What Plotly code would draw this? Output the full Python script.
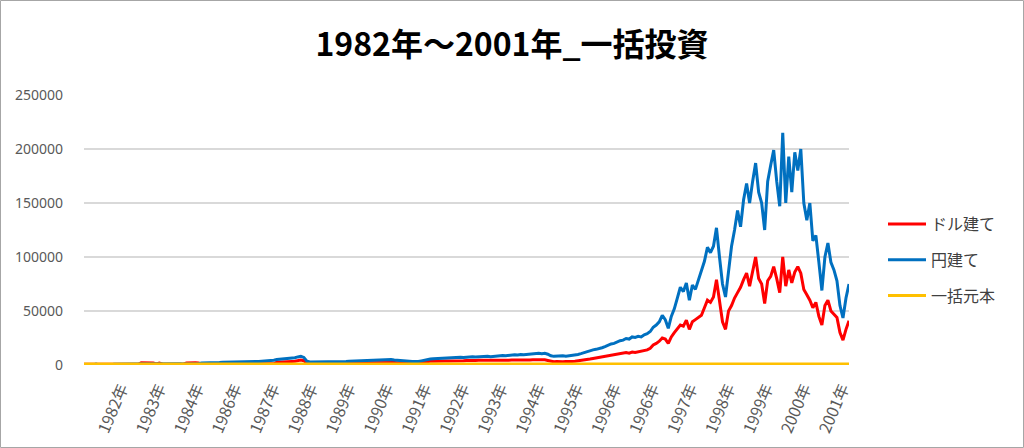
import plotly.graph_objects as go

# ---- data ----
year_labels = ["1982年", "1983年", "1984年", "1986年", "1987年", "1988年", "1989年",
               "1990年", "1991年", "1992年", "1993年", "1994年", "1995年", "1996年",
               "1996年", "1997年", "1998年", "1999年", "2000年", "2001年"]

# 円建て (yen based value)
yen_value = [
    300, 0, 0, 0, 900, 0, 0, 0, 0, 200,
    800, 900, 900, 900, 950, 900, 950, 900, 900, 950,
    950, 900, 950, 1000, 950, 1000, 950, 1000, 1000, 950,
    1000, 1000, 1050, 1000, 1000, 1050, 1000, 1100, 1200,
    1800, 1800, 2000, 2000, 2200, 2300, 2300, 2500, 2600, 2500, 2800, 3000,
    3200, 3000, 3300, 3500, 3400, 3500, 3300, 3200, 3400, 3500,
    3600, 3800, 4500, 5000,
    5300, 5600, 6000, 5800, 6200, 6800, 7500, 8000, 7000, 3500, 2800,
    2800, 2900, 2900, 3000, 2900, 3000, 3000, 3100, 3000, 3100, 3200, 3300, 3500,
    3600, 3800, 4000, 4200, 4500, 4800, 4600, 5000, 4800, 5200,
    5000, 4800, 5200, 5000, 4600, 4500, 4300, 4000, 3800, 3500, 3200, 3000,
    3200, 3800, 4500, 5200, 5500, 5800, 6000, 5800, 6200, 6500, 6300, 6800, 7000, 6800, 7200,
    7000, 7400, 7200, 7600, 7500, 7800, 7400, 7800, 8000, 7600,
    8000, 8300, 8500, 8800, 8600, 9000, 9200, 9500, 9300, 9800,
    9500, 9800, 10000, 10200, 10500, 10800, 10500,
    10800, 10000, 8500, 8000, 8300, 8000, 8600, 8200,
    8500, 8800, 9200, 9800, 10500, 11500, 12500, 13500, 14000, 14500, 15000,
    16000, 17000, 18500, 19500, 20000, 21500, 22500, 23000, 24500, 24000,
    26000, 25500, 26500, 26000, 28000, 29000, 31000, 35000, 37000, 40000,
    46000, 42000, 34000, 45000, 52000, 62000, 72000, 68000, 76000, 60000,
    74000, 70000, 78000, 88000, 96000, 109000, 104000, 110000, 127000, 100000,
    75000, 63000, 85000, 110000, 125000, 143000, 128000, 153000, 168000, 150000,
    170000, 187000, 160000, 150000, 125000, 170000, 185000, 199000, 170000, 147000,
    215000, 150000, 193000, 160000, 197000, 180000, 200000, 150000, 134000, 150000,
    115000, 120000, 95000, 69000, 100000, 113000, 95000, 88000, 78000, 55000,
    43500, 62000, 75000,
]

# ドル建て (dollar based value)
dollar_value = [
    700, 700, 700, 700, 700, 700, 700, 700, 700, 700,
    700, 700, 700, 700, 700, 700, 700, 700, 700,
    2000, 2100, 1900, 2000, 1800,
    900, 1800, 900, 800, 800, 800, 800, 800, 800, 800,
    1800, 2000, 1900, 2000, 1800,
    1000, 1000, 1000, 1000, 1000, 1000, 1000, 1000, 1000, 1000,
    1000, 1000, 1000, 1000, 1000, 1000, 1000, 1000, 1000, 1000,
    1000, 1000, 1000, 1000, 1100,
    2500, 2800, 3000, 3000, 3200, 3300, 3500, 4000, 4500, 4000,
    1500,
    1200, 1200, 1200, 1200, 1200, 1200, 1200, 1200, 1200, 1200,
    1200, 1200, 1200, 1200, 1300, 1300, 1400, 1500, 1600, 1800,
    2000, 2100, 2200, 2300, 2300, 2200, 2400, 2300, 2200, 2100, 2000, 1900, 1800, 1800, 1700, 1700,
    2000, 2500, 3000, 3300, 3500, 3500, 3400, 3600, 3500, 3700,
    3800, 3700, 4000, 3900, 4100, 4000, 4200, 4000, 4300, 4200,
    4400, 4200, 4500, 4400, 4300, 4500, 4400, 4600, 4500, 4700,
    4500, 4700, 4600, 4800, 4700, 4500, 4800, 4600, 4900, 5000, 5200, 5000,
    4800, 4200, 3500, 3000, 3200, 2800, 3000, 3200, 3000, 3300,
    3500, 3800, 4000, 4500, 5000, 5500, 6000, 6500, 7000,
    7500, 8000, 8500, 9000, 9500, 10000, 10500, 11000, 11500, 11000,
    12000, 11500, 12000, 12500, 13000, 14000, 15500, 18500, 20000, 22000,
    25000, 24000, 20000, 26000, 30000, 34000, 37000, 36000, 41500, 33000,
    40000, 42000, 44000, 46000, 53000, 60000, 58000, 63000, 79000, 58000,
    40000, 33000, 50000, 55000, 62000, 67000, 72000, 79000, 85000, 73000,
    88000, 100000, 80000, 75000, 57000, 78000, 82000, 91000, 80000, 67000,
    100000, 73000, 88000, 76000, 86000, 91000, 85000, 70000, 65000, 60000,
    53000, 58000, 45000, 37000, 55000, 60000, 50000, 47000, 44000, 30000,
    23000, 33000, 41000,
]

lump_sum = 1000  # 一括元本

n = min(len(yen_value), len(dollar_value))
days = list(range(n))
principal = [lump_sum for _ in days]

# ---- layout constants ----
L, R, T, B = 84, 175, 95, 83
W, H = 1024, 448
first_tick = 12.3
tick_step = 12.6
tickvals = [first_tick + k * tick_step for k in range(len(year_labels))]

fig = go.Figure()
fig.add_trace(go.Scatter(x=days, y=dollar_value[:n], mode="lines", name="ドル建て",
                         line=dict(color="#FF0000", width=3), legendgroup="a"))
fig.add_trace(go.Scatter(x=days, y=yen_value[:n], mode="lines", name="円建て",
                         line=dict(color="#0070C0", width=3), legendgroup="b"))
fig.add_trace(go.Scatter(x=days, y=principal, mode="lines", name="一括元本",
                         line=dict(color="#FFC000", width=3), legendgroup="c"))

pw = W - L - R
ph = H - T - B
fig.add_shape(type="rect", xref="paper", yref="paper",
              x0=(0.5 - L) / pw, x1=(W - 0.5 - L) / pw,
              y0=-(B - 0.5) / ph, y1=1 + (T - 0.5) / ph,
              line=dict(color="#a6a6a6", width=1), fillcolor="rgba(0,0,0,0)", layer="below")

fig.update_layout(
    width=W, height=H,
    margin=dict(l=L, r=R, t=T, b=B),
    paper_bgcolor="white", plot_bgcolor="white",
    font=dict(family="Noto Sans CJK JP", color="#595959"),
    title=dict(text="1982年～2001年_一括投資", x=0.5, xref="container", xanchor="center",
               y=1 - 45 / H, yref="container", yanchor="middle",
               font=dict(family="Noto Sans CJK JP", size=32, color="#000000", weight=700)),
    showlegend=True,
    legend=dict(x=(883 - L) / pw, y=(365 - 260) / ph, xanchor="left", yanchor="middle",
                font=dict(family="Noto Sans CJK JP", size=16, color="#404040"),
                traceorder="grouped", tracegroupgap=12, bgcolor="rgba(0,0,0,0)",
                itemwidth=38),
    xaxis=dict(range=[0, n - 1], tickmode="array", tickvals=tickvals, ticktext=year_labels,
               tickangle=-67, showgrid=False, zeroline=False, showline=False, ticks="",
               ticklabelstandoff=10,
               tickfont=dict(family="Noto Sans CJK JP", size=16, color="#595959")),
    yaxis=dict(range=[0, 250000], tickmode="array",
               tickvals=[0, 50000, 100000, 150000, 200000, 250000],
               ticktext=["0", "50000", "100000", "150000", "200000", "250000"],
               showgrid=True, gridcolor="#d9d9d9", gridwidth=2, zeroline=False,
               showline=False, ticks="", ticklabelstandoff=20,
               tickfont=dict(family="Noto Sans", size=14, color="#595959")),
)

fig.write_html("out.html", config={"displayModeBar": False},
               post_script="document.body.style.margin='0';document.body.style.overflow='hidden';")
